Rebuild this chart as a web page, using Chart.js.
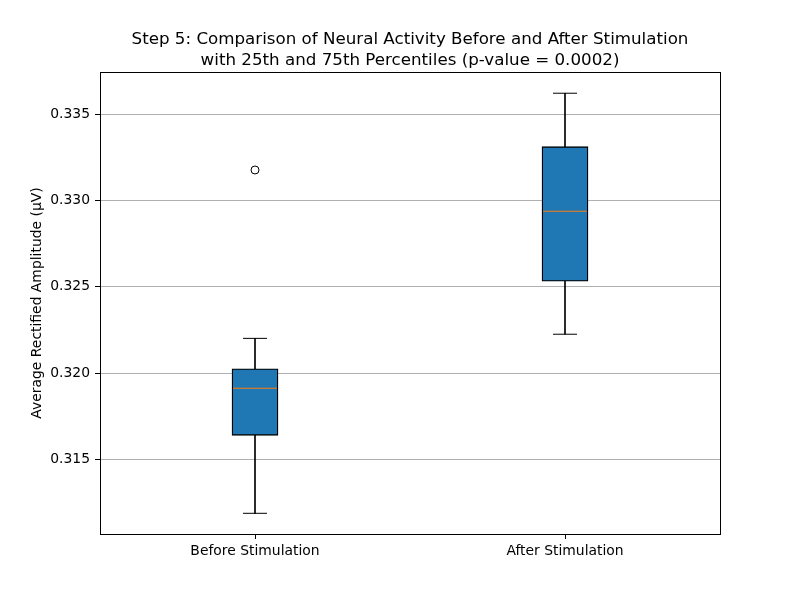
<!DOCTYPE html>
<html>
<head>
<meta charset="utf-8">
<script src="https://cdn.jsdelivr.net/npm/chart.js@4"></script>
<style>
  html, body { margin: 0; padding: 0; background: #fff; }
  #wrap { width: 800px; height: 600px; }
</style>
</head>
<body>
<div id="wrap"><canvas id="myChart" width="800" height="600"></canvas></div>
<script>
// box plot data
const groups = ['Before Stimulation', 'After Stimulation'];
const whiskerLow = [0.31187, 0.32225];
const q1 = [0.31639, 0.32532];
const medians = [0.31912, 0.32938];
const q3 = [0.32025, 0.33312];
const whiskerHigh = [0.32201, 0.33622];
const outliers = [0.33177, null];
const tickValues = [0.315, 0.320, 0.325, 0.330, 0.335];
const titleLines = ['Step 5: Comparison of Neural Activity Before and After Stimulation',
                    'with 25th and 75th Percentiles (p-value = 0.0002)'];

const fontFamily = "'DejaVu Sans', sans-serif";

// frame around plot area + title centred over the axes (matplotlib style)
const framePlugin = {
    id: 'frame',
    afterDatasetsDraw(chart) {
        const { ctx, chartArea: a } = chart;
        ctx.save();
        ctx.strokeStyle = '#000';
        ctx.lineWidth = 1;
        ctx.strokeRect(Math.round(a.left) + 0.5, Math.round(a.top) + 0.5,
            Math.round(a.right - a.left), Math.round(a.bottom - a.top));

        ctx.fillStyle = '#000';
        ctx.font = '16.7px ' + fontFamily;
        ctx.textAlign = 'center';
        ctx.textBaseline = 'alphabetic';
        const cx = (a.left + a.right) / 2;
        titleLines.forEach((t, i) => ctx.fillText(t, cx, 44 + i * 21));
        ctx.restore();
    }
};

document.addEventListener('DOMContentLoaded', () => {
    const ctx = document.getElementById('myChart').getContext('2d');

    const myChart = new Chart(ctx, {
        type: 'bar',
        data: {
            labels: groups,
            datasets: [
                {
                    // whiskers
                    type: 'bar',
                    data: groups.map((g, i) => [whiskerLow[i], whiskerHigh[i]]),
                    backgroundColor: '#000',
                    barThickness: 1,
                    grouped: false,
                    order: 5
                },
                {
                    // boxes
                    type: 'bar',
                    data: groups.map((g, i) => [q1[i], q3[i]]),
                    backgroundColor: '#1f77b4',
                    borderColor: '#000',
                    borderWidth: 1.3,
                    borderSkipped: false,
                    barThickness: 46,
                    grouped: false,
                    order: 4
                },
                {
                    // caps
                    type: 'line',
                    data: whiskerLow,
                    showLine: false,
                    pointStyle: 'line',
                    pointRadius: 12,
                    pointBorderWidth: 1,
                    pointBorderColor: '#000',
                    order: 2
                },
                {
                    type: 'line',
                    data: whiskerHigh,
                    showLine: false,
                    pointStyle: 'line',
                    pointRadius: 12,
                    pointBorderWidth: 1,
                    pointBorderColor: '#000',
                    order: 2
                },
                {
                    // medians
                    type: 'line',
                    data: medians,
                    showLine: false,
                    pointStyle: 'line',
                    pointRadius: 22,
                    pointBorderWidth: 1,
                    pointBorderColor: '#ff7f0e',
                    order: 1
                },
                {
                    // fliers
                    type: 'line',
                    data: outliers,
                    showLine: false,
                    pointStyle: 'circle',
                    pointRadius: 4,
                    pointBorderWidth: 1,
                    pointBorderColor: '#000',
                    pointBackgroundColor: 'rgba(0,0,0,0)',
                    order: 1
                }
            ]
        },
        options: {
            responsive: false,
            animation: false,
            layout: { padding: { left: 0, right: 80, top: 72, bottom: 0 } },
            plugins: {
                legend: { display: false },
                tooltip: { enabled: false },
                title: { display: false }
            },
            scales: {
                x: {
                    offset: true,
                    grid: { display: true, drawOnChartArea: false, offset: false, tickLength: 5, tickColor: '#000' },
                    border: { display: false },
                    ticks: { color: '#000', padding: 4, font: { family: fontFamily, size: 13.9 } },
                    afterFit(scale) { scale.height = 66; }
                },
                y: {
                    min: 0.31067,
                    max: 0.33745,
                    grid: { color: '#b0b0b0', tickLength: 5, tickColor: '#000' },
                    border: { display: false },
                    ticks: {
                        color: '#000',
                        padding: 5,
                        font: { family: fontFamily, size: 13.9 },
                        callback: (v) => Number(v).toFixed(3)
                    },
                    afterBuildTicks(scale) {
                        scale.ticks = tickValues.map(v => ({ value: v }));
                    },
                    title: {
                        display: true,
                        text: 'Average Rectified Amplitude (μV)',
                        color: '#000',
                        font: { family: fontFamily, size: 13.9 },
                        padding: { top: 29, bottom: 0 }
                    },
                    afterFit(scale) { scale.width = 100; }
                }
            }
        },
        plugins: [framePlugin]
    });
});
</script>
</body>
</html>
